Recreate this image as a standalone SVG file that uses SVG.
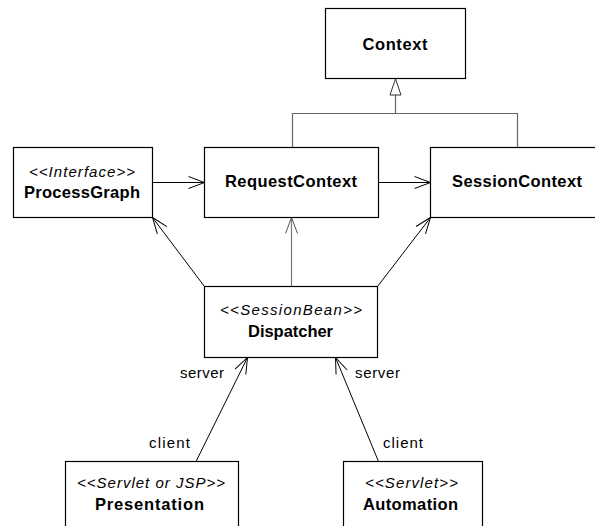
<svg xmlns="http://www.w3.org/2000/svg" width="595" height="526" viewBox="0 0 595 526">
  <style>
    .box { fill: #ffffff; stroke: #000000; stroke-width: 1.2; }
    .name { font-family: "Liberation Sans", Arial, sans-serif; font-size: 16.5px; font-weight: bold; fill: #000; text-anchor: middle; }
    .stereo { font-family: "Liberation Sans", Arial, sans-serif; font-size: 15px; font-style: italic; fill: #000; text-anchor: middle; }
    .role { font-family: "Liberation Sans", Arial, sans-serif; font-size: 15px; fill: #000; }
    .assoc { fill: none; stroke: #000000; stroke-width: 1; marker-end: url(#open); }
    .assoc-grey { fill: none; stroke: #777777; stroke-width: 1.2; marker-end: url(#open-grey); }
    .gen { fill: none; stroke: #666666; stroke-width: 1.2; }
  </style>
  <defs>
    <marker id="open" markerUnits="userSpaceOnUse" markerWidth="18" markerHeight="14" refX="16" refY="6" orient="auto" overflow="visible">
      <path d="M0,0 L16,6 L0,12" fill="none" stroke="#000000" stroke-width="1"/>
    </marker>
    <marker id="open-grey" markerUnits="userSpaceOnUse" markerWidth="18" markerHeight="14" refX="16" refY="6" orient="auto" overflow="visible">
      <path d="M0,0 L16,6 L0,12" fill="none" stroke="#555555" stroke-width="1"/>
    </marker>
  </defs>

  <!-- connectors -->
  <g id="connectors">
    <!-- generalization to Context -->
    <path class="gen" d="M292.5,147.5 V113.5 H517.5 V147.5"/>
    <path class="gen" d="M395.5,113.5 V95"/>
    <polygon points="395.5,78.8 390,95 401,95" fill="#ffffff" stroke="#333333" stroke-width="1"/>

    <!-- navigable associations -->
    <line class="assoc" x1="152.5" y1="182.5" x2="204.5" y2="182.5"/>
    <line class="assoc" x1="378.5" y1="182.5" x2="430.5" y2="182.5"/>
    <line class="assoc" x1="204.5" y1="286.5" x2="152.5" y2="217.5"/>
    <line class="assoc-grey" x1="291.5" y1="286.5" x2="291.5" y2="217.5"/>
    <line class="assoc" x1="377.5" y1="286.5" x2="430.5" y2="217.5"/>
    <line class="assoc" x1="196" y1="461.5" x2="247.5" y2="357.5"/>
    <line class="assoc" x1="378.5" y1="461.5" x2="335.5" y2="357.5"/>

    <!-- role names -->
    <text class="role" x="180" y="378" textLength="44" lengthAdjust="spacing">server</text>
    <text class="role" x="149" y="448" textLength="41" lengthAdjust="spacing">client</text>
    <text class="role" x="355" y="378" textLength="45" lengthAdjust="spacing">server</text>
    <text class="role" x="383" y="448" textLength="40" lengthAdjust="spacing">client</text>
  </g>

  <!-- classes -->
  <g id="context">
    <rect class="box" x="325.5" y="8.5" width="140" height="70"/>
    <text class="name" x="395" y="50" textLength="65" lengthAdjust="spacing">Context</text>
  </g>

  <g id="process-graph">
    <rect class="box" x="13.5" y="147.5" width="139" height="70"/>
    <text class="stereo" x="82" y="177" textLength="106" lengthAdjust="spacing">&lt;&lt;Interface&gt;&gt;</text>
    <text class="name" x="82" y="198" textLength="116" lengthAdjust="spacing">ProcessGraph</text>
  </g>

  <g id="request-context">
    <rect class="box" x="204.5" y="147.5" width="174" height="70"/>
    <text class="name" x="291" y="187" textLength="132" lengthAdjust="spacing">RequestContext</text>
  </g>

  <g id="session-context">
    <rect class="box" x="430.5" y="147.5" width="175" height="70"/>
    <text class="name" x="517" y="187" textLength="130" lengthAdjust="spacing">SessionContext</text>
  </g>

  <g id="dispatcher">
    <rect class="box" x="204.5" y="286.5" width="173" height="71"/>
    <text class="stereo" x="291" y="315" textLength="142" lengthAdjust="spacing">&lt;&lt;SessionBean&gt;&gt;</text>
    <text class="name" x="290.5" y="337" textLength="85" lengthAdjust="spacing">Dispatcher</text>
  </g>

  <g id="presentation">
    <rect class="box" x="65.5" y="461.5" width="173" height="80"/>
    <text class="stereo" x="151" y="488" textLength="148" lengthAdjust="spacing">&lt;&lt;Servlet or JSP&gt;&gt;</text>
    <text class="name" x="149.5" y="510" textLength="109" lengthAdjust="spacing">Presentation</text>
  </g>

  <g id="automation">
    <rect class="box" x="343.5" y="461.5" width="139" height="80"/>
    <text class="stereo" x="411.5" y="488" textLength="93" lengthAdjust="spacing">&lt;&lt;Servlet&gt;&gt;</text>
    <text class="name" x="410.5" y="510" textLength="95" lengthAdjust="spacing">Automation</text>
  </g>
</svg>
